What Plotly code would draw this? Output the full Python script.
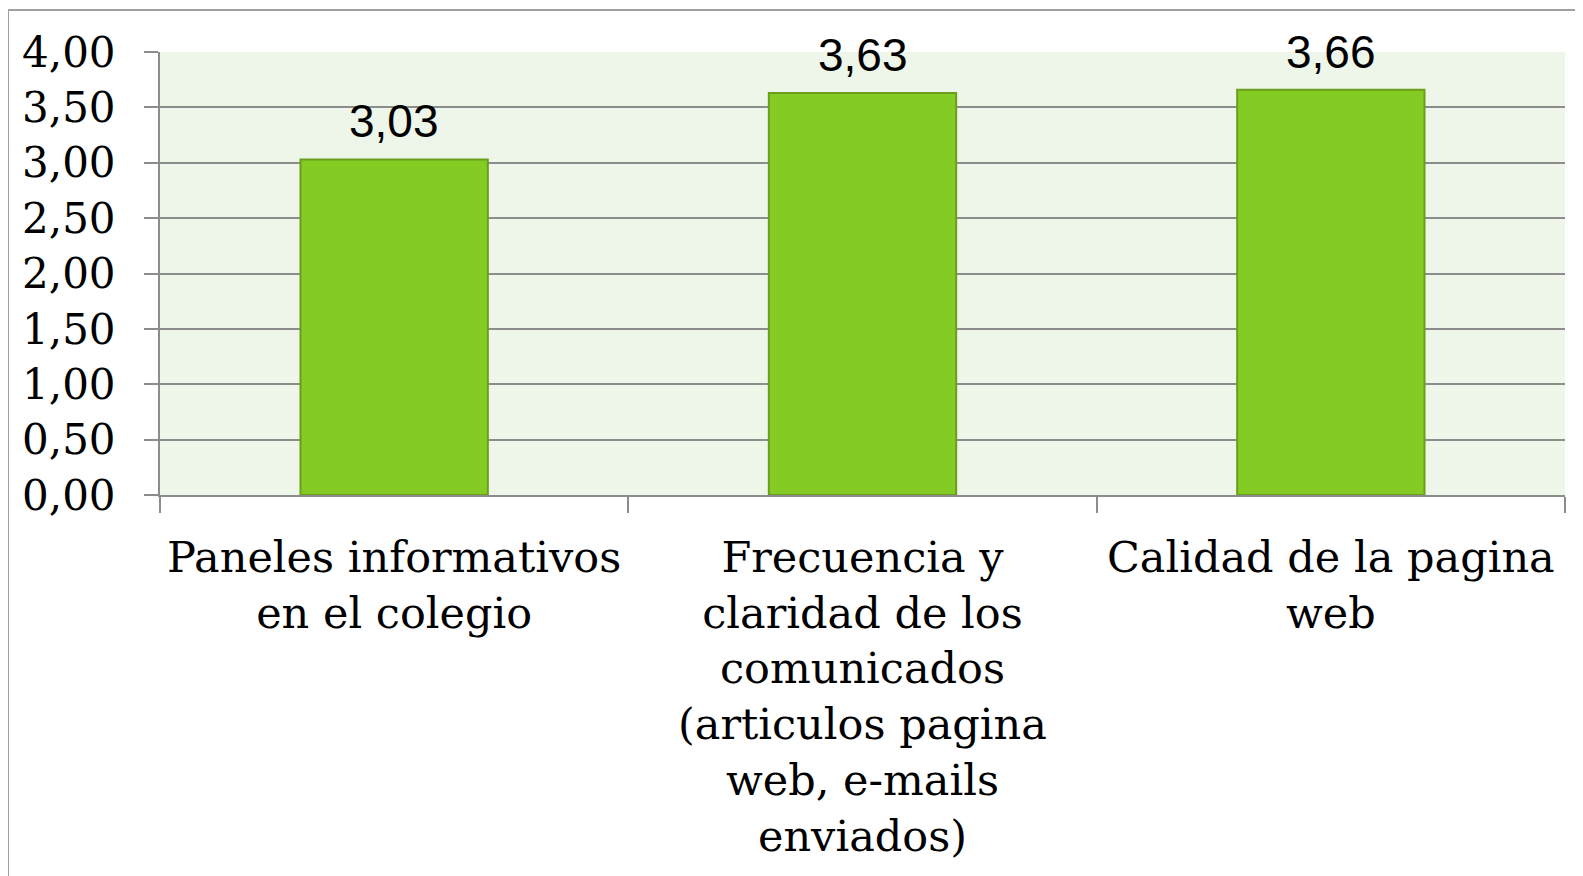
import plotly.graph_objects as go

categories = [
    "Paneles informativos<br>en el colegio",
    "Frecuencia y<br>claridad de los<br>comunicados<br>(articulos pagina<br>web, e-mails<br>enviados)",
    "Calidad de la pagina<br>web",
]
values = [3.03, 3.63, 3.66]
y_ticks = [0, 0.5, 1, 1.5, 2, 2.5, 3, 3.5, 4]

# page has an 8px body margin; figure sized to fit window
W, H = 1575, 868
ml, mr, mt, mb = 152, 18, 44, 381
pw, ph = W - ml - mr, H - mt - mb

fig = go.Figure()
fig.add_trace(go.Bar(
    x=categories, y=values, width=0.4,
    marker=dict(color="#84CC24", line=dict(color="#6A9E1C", width=2)),
))

for c, v in zip(categories, values):
    fig.add_annotation(
        x=c, y=v, xref="x", yref="y", text=f"{v:.2f}".replace(".", ","),
        showarrow=False, yanchor="bottom", yshift=10,
        font=dict(family="Liberation Sans, Arial", size=46, color="#000000"),
    )

grid = "#8C8C8C"
fig.update_layout(
    width=W, height=H, separators=",.",
    margin=dict(l=ml, r=mr, t=mt, b=mb),
    paper_bgcolor="white", plot_bgcolor="#EEF5E9",
    showlegend=False,
    font=dict(family="DejaVu Serif", color="#000000"),
    xaxis=dict(
        showgrid=False, showline=True, linecolor=grid, linewidth=2,
        ticks="outside", ticklen=16, tickcolor=grid, tickwidth=2,
        tickson="boundaries",
        tickfont=dict(family="DejaVu Serif", size=43, color="#000000"),
        ticklabelstandoff=23,
    ),
    yaxis=dict(
        range=[0, 4], tickvals=y_ticks, tickformat=".2f",
        showgrid=True, gridcolor=grid, gridwidth=2,
        showline=True, linecolor=grid, linewidth=2,
        ticks="outside", ticklen=14, tickcolor=grid, tickwidth=2,
        tickfont=dict(family="DejaVu Serif", size=42, color="#000000"),
        ticklabelstandoff=20,
        zeroline=False,
    ),
)

# outer chart border
fig.add_shape(
    type="rect", xref="paper", yref="paper",
    x0=(0 - ml) / pw, x1=(W + 20 - ml) / pw,
    y0=(mt + ph - (H + 20)) / ph, y1=(mt + ph - 2) / ph,
    line=dict(color="#A0A0A0", width=2), fillcolor="rgba(0,0,0,0)", layer="below",
)

fig.write_html("out.html")
